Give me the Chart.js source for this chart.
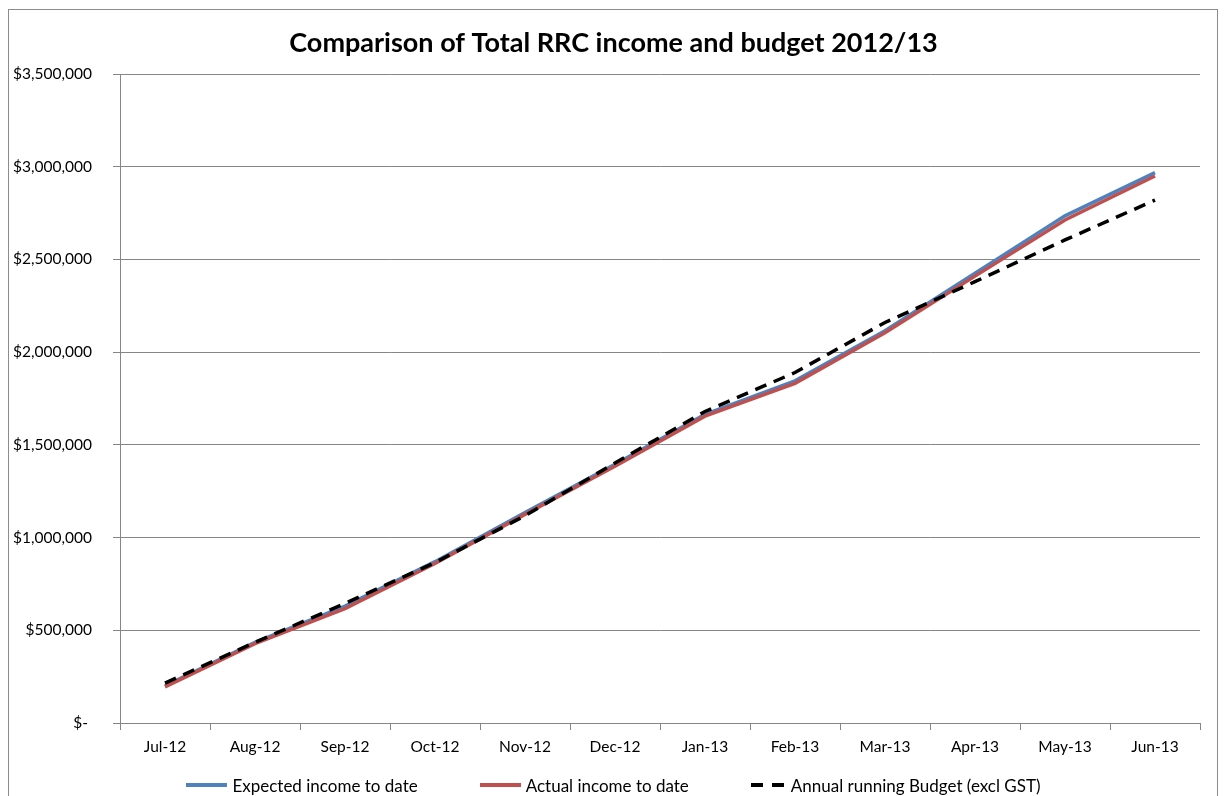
<!DOCTYPE html>
<html>
<head>
<meta charset="utf-8">
<script src="https://cdn.jsdelivr.net/npm/chart.js@4.4.1/dist/chart.umd.min.js"></script>
<style>
  html, body { margin: 0; padding: 0; background: #fff; }
  #wrap { position: relative; width: 1227px; height: 796px; overflow: hidden; }
  #frame { position: absolute; left: 8px; top: 9px; width: 1210px; height: 800px; border: 1px solid #8c8c8c; box-sizing: border-box; pointer-events: none; }
  #legend { position: absolute; left: 0; width: 1227px; top: 773px; height: 24px; display: flex; justify-content: center; align-items: center; gap: 62px; font-family: Lato, sans-serif; font-size: 17px; color: #000; }
  .item { display: flex; align-items: center; white-space: nowrap; }
  .swatch { display: inline-block; width: 41px; height: 4px; margin-right: 5px; }
</style>
</head>
<body>
<div id="wrap">
  <canvas id="c"></canvas>
  <div id="frame"></div>
  <div id="legend"></div>
</div>
<script>
const chartTitle = 'Comparison of Total RRC income and budget 2012/13';
const categories = ['Jul-12','Aug-12','Sep-12','Oct-12','Nov-12','Dec-12','Jan-13','Feb-13','Mar-13','Apr-13','May-13','Jun-13'];
const seriesNames = ['Expected income to date','Actual income to date','Annual running Budget (excl GST)'];
const expectedIncome = [200000, 435000, 630000, 870000, 1135000, 1395000, 1665000, 1845000, 2115000, 2425000, 2735000, 2968000];
const actualIncome   = [195000, 428000, 617000, 860000, 1125000, 1385000, 1655000, 1832000, 2105000, 2410000, 2713000, 2950000];
const annualBudget   = [215000, 435000, 645000, 865000, 1118000, 1402000, 1680000, 1890000, 2160000, 2380000, 2605000, 2820000];
const yTickValues = [0, 500000, 1000000, 1500000, 2000000, 2500000, 3000000, 3500000];

const fontFamily = 'Lato, "Open Sans", sans-serif';
const axisGray = '#868686';

function fmtMoney(v) {
  if (v === 0) return '$- ';
  return '$' + v.toLocaleString('en-US');
}

const chart = new Chart(document.getElementById('c'), {
  type: 'line',
  data: {
    labels: categories,
    datasets: [
      { label: seriesNames[0], data: expectedIncome, borderColor: '#4F81BD', backgroundColor: '#4F81BD', borderWidth: 3.5, pointRadius: 0, tension: 0, order: 2 },
      { label: seriesNames[1], data: actualIncome, borderColor: '#C0504D', backgroundColor: '#C0504D', borderWidth: 3.5, pointRadius: 0, tension: 0, order: 1 },
      { label: seriesNames[2], data: annualBudget, borderColor: '#000000', backgroundColor: '#000000', borderWidth: 3.5, borderDash: [12, 8], pointRadius: 0, tension: 0, order: 0 }
    ]
  },
  options: {
    responsive: true,
    maintainAspectRatio: false,
    animation: false,
    layout: { padding: { left: 0, right: 0, top: 0, bottom: 0 } },
    plugins: {
      legend: { display: false },
      tooltip: { enabled: false },
      title: {
        display: true,
        text: chartTitle,
        color: '#000',
        font: { family: fontFamily, size: 27, weight: 'bold' },
        padding: { top: 27, bottom: 14.6 }
      }
    },
    scales: {
      x: {
        offset: true,
        grid: { offset: true, drawOnChartArea: false, drawTicks: true, tickLength: 7, color: axisGray },
        border: { color: axisGray, width: 1 },
        ticks: { color: '#000', padding: 8, maxRotation: 0, autoSkip: false, font: { family: fontFamily, size: 15.5 } },
        afterFit: s => { s.height = 73; }
      },
      y: {
        min: 0,
        max: 3500000,
        afterBuildTicks: s => { s.ticks = yTickValues.map(v => ({ value: v })); },
        grid: { color: axisGray, lineWidth: 1, drawTicks: true, tickLength: 7 },
        border: { color: axisGray, width: 1 },
        ticks: { color: '#000', padding: 21, font: { family: fontFamily, size: 15.5 }, callback: v => fmtMoney(v) },
        afterFit: s => { s.width = 120; }
      },
      yRightSpace: {
        position: 'right',
        display: true,
        grid: { display: false, drawTicks: false },
        border: { display: false },
        ticks: { display: false },
        afterFit: s => { s.width = 27; }
      }
    }
  }
});

// HTML legend built from the chart's datasets
const legendEl = document.getElementById('legend');
chart.data.datasets.forEach(ds => {
  const item = document.createElement('div');
  item.className = 'item';
  const sw = document.createElement('span');
  sw.className = 'swatch';
  if (ds.borderDash) {
    sw.style.width = '33px';
    sw.style.background = 'repeating-linear-gradient(90deg, ' + ds.borderColor + ' 0 12px, transparent 12px 21px)';
    sw.style.marginRight = '7px';
  } else {
    sw.style.background = ds.borderColor;
  }
  const tx = document.createElement('span');
  tx.textContent = ds.label;
  item.appendChild(sw);
  item.appendChild(tx);
  legendEl.appendChild(item);
});
</script>
</body>
</html>
